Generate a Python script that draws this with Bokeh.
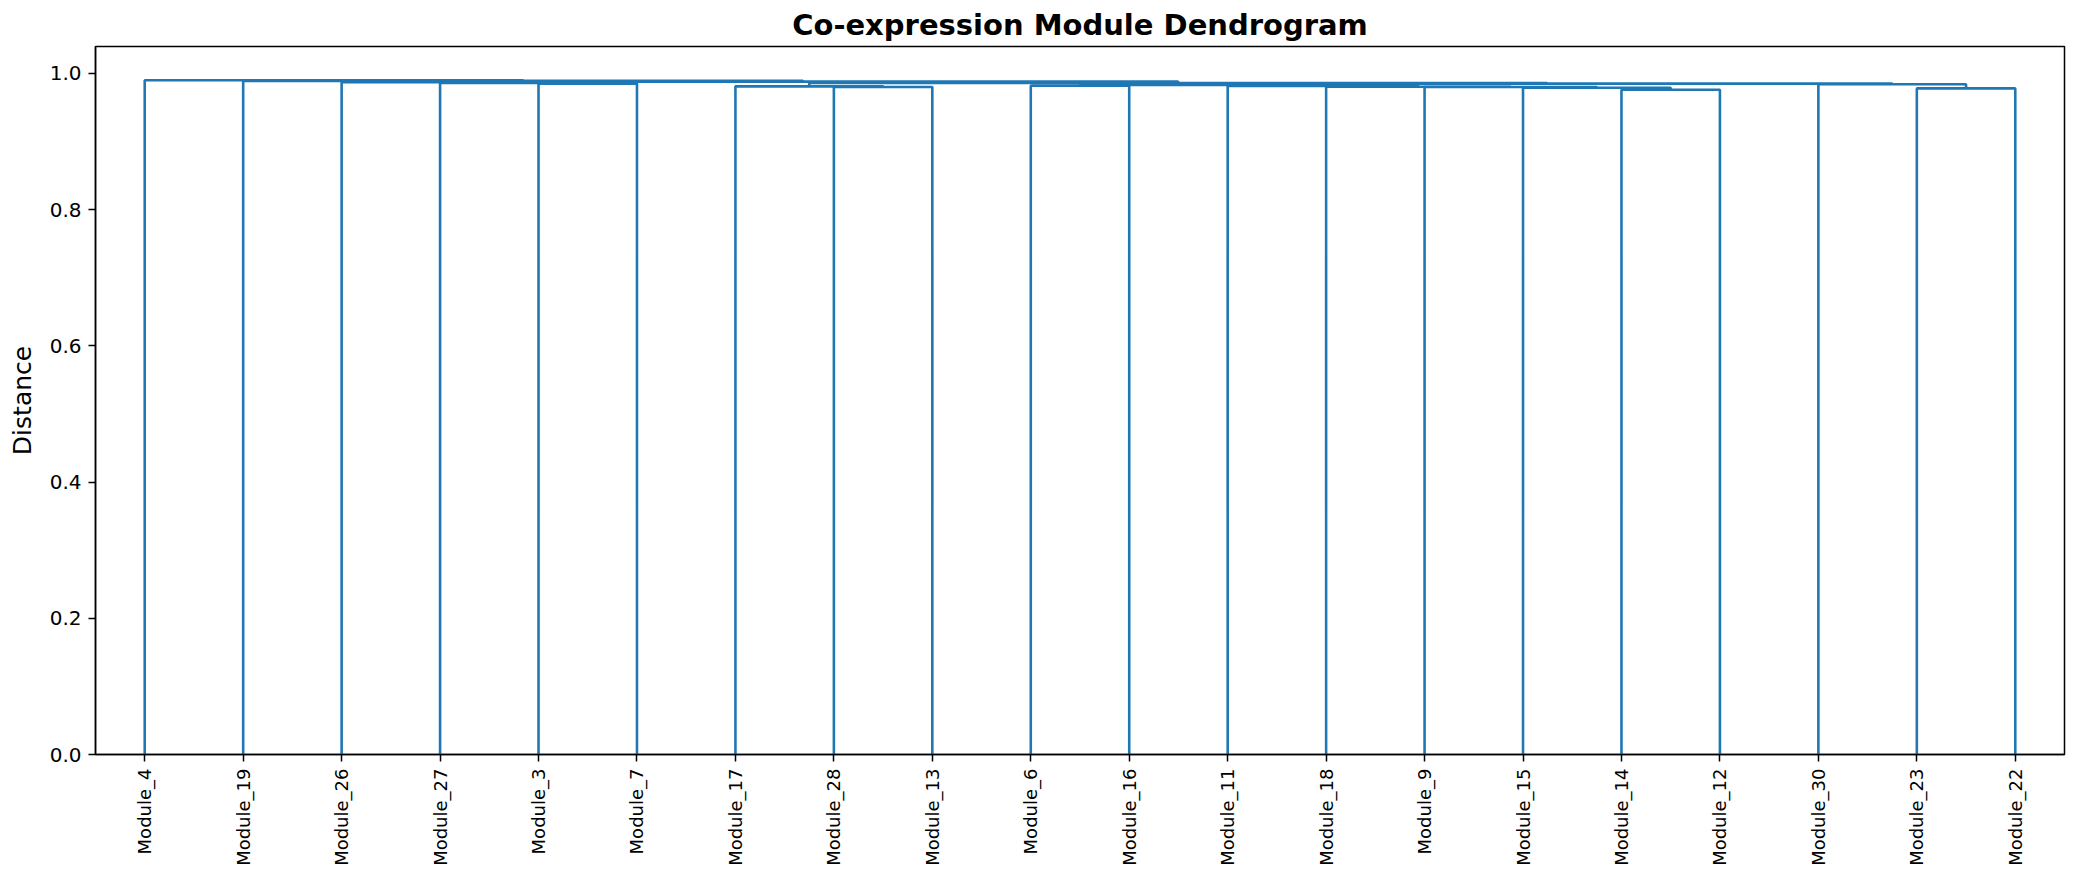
import math
from bokeh.plotting import figure
from bokeh.models import FixedTicker, Range1d
from bokeh.embed import file_html
from bokeh.resources import INLINE

# leaf order as it appears along the x axis
leaf_labels = ["Module_4", "Module_19", "Module_26", "Module_27", "Module_3",
               "Module_7", "Module_17", "Module_28", "Module_13", "Module_6",
               "Module_16", "Module_11", "Module_18", "Module_9", "Module_15",
               "Module_14", "Module_12", "Module_30", "Module_23", "Module_22"]

# merges (scipy-style ids: leaves 0..19 by position, clusters 20+)
merge_left = [7, 6, 15, 18, 17, 14, 13, 12, 11, 9, 29, 30, 21, 4, 3, 2, 35, 1, 0]
merge_right = [8, 20, 16, 19, 23, 22, 25, 26, 27, 10, 28, 24, 31, 5, 33, 34, 32, 36, 37]
merge_height = [0.980, 0.981, 0.976, 0.978, 0.984, 0.979, 0.980, 0.9805, 0.9815,
                0.982, 0.983, 0.985, 0.986, 0.985, 0.986, 0.987, 0.988, 0.989, 0.990]

n = len(leaf_labels)
leaf_x = [5 + 10 * i for i in range(n)]

pos = {i: leaf_x[i] for i in range(n)}
hgt = {i: 0.0 for i in range(n)}
xs, ys = [], []
for k, (a, b, h) in enumerate(zip(merge_left, merge_right, merge_height)):
    xa, xb = pos[a], pos[b]
    xs.append([xa, xa, xb, xb])
    ys.append([hgt[a], h, h, hgt[b]])
    pos[n + k] = (xa + xb) / 2
    hgt[n + k] = h

p = figure(width=2066, height=868, output_backend="svg", toolbar_location=None,
           x_range=Range1d(0, 10 * n), y_range=Range1d(0, 1.0395),
           title="Co-expression Module Dendrogram",
           min_border_left=95, min_border_right=2, min_border_top=46,
           min_border_bottom=114)

p.multi_line(xs, ys, line_color="#1f77b4", line_width=2.6)

p.title.text_font = "DejaVu Sans"
p.title.text_font_size = "29px"
p.title.text_font_style = "bold"
p.title.align = "center"
p.title.text_color = "black"

p.xgrid.visible = False
p.ygrid.visible = False
p.outline_line_color = "black"
p.outline_line_width = 1.5
p.outline_line_alpha = 1.0
p.background_fill_color = "white"
p.border_fill_color = "white"

p.xaxis.ticker = FixedTicker(ticks=leaf_x, minor_ticks=[])
p.xaxis.major_label_overrides = {x: lab for x, lab in zip(leaf_x, leaf_labels)}
p.xaxis.major_label_orientation = math.pi / 2
p.xaxis.major_label_text_font_size = "18px"

p.yaxis.ticker = FixedTicker(ticks=[0.0, 0.2, 0.4, 0.6, 0.8, 1.0], minor_ticks=[])
p.yaxis.major_label_overrides = {0.0: "0.0", 0.2: "0.2", 0.4: "0.4",
                                 0.6: "0.6", 0.8: "0.8", 1.0: "1.0"}
p.yaxis.major_label_text_font_size = "20px"
p.yaxis.axis_label = "Distance"
p.yaxis.axis_label_text_font_size = "25px"
p.yaxis.axis_label_text_font_style = "normal"
p.yaxis.axis_label_standoff = 10

for ax in (p.xaxis, p.yaxis):
    ax.major_label_text_font = "DejaVu Sans"
    ax.axis_label_text_font = "DejaVu Sans"
    ax.major_label_text_color = "black"
    ax.axis_label_text_color = "black"
    ax.axis_line_color = "black"
    ax.axis_line_width = 1.5
    ax.major_tick_line_color = "black"
    ax.major_tick_line_width = 1.5
    ax.major_tick_in = 0
    ax.major_tick_out = 7
    ax.major_label_standoff = 7

open("out.html", "w").write(file_html(p, INLINE))
